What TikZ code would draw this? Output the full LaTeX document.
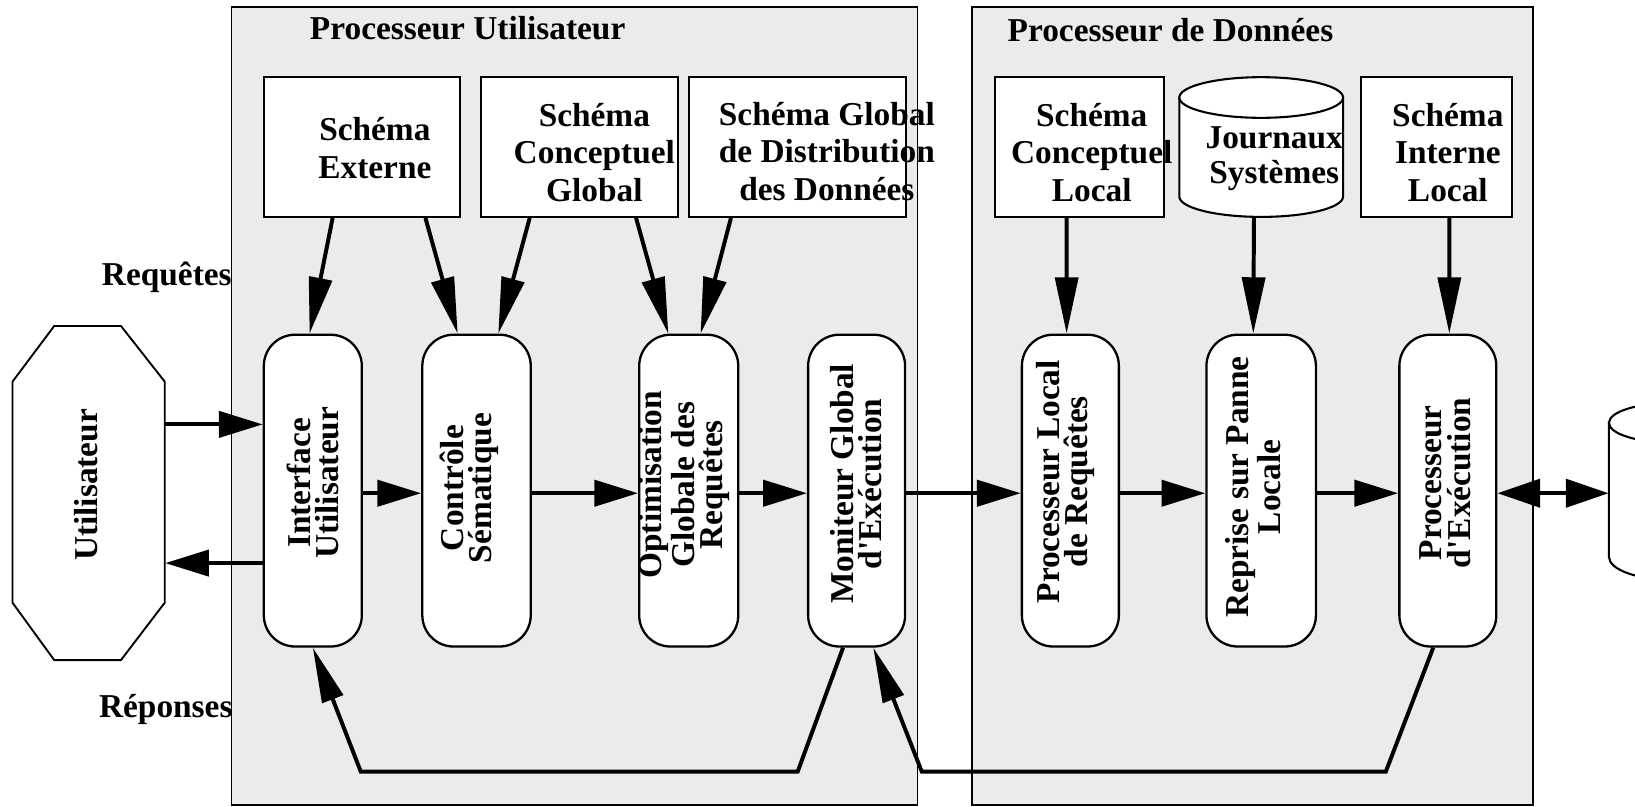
\documentclass[tikz,border=0pt]{standalone}
\usepackage{fontspec}
\setmainfont{Liberation Serif}
\usetikzlibrary{arrows.meta,fit,calc}

\begin{document}
\begin{tikzpicture}[x=0.5pt,y=-0.5pt,
  every node/.style={font=\bfseries\fontsize{16pt}{18pt}\selectfont},
  panel/.style={draw, line width=0.8pt, fill=black!8, inner sep=0pt},
  schema/.style={draw, line width=1pt, fill=white, inner sep=0pt},
  module/.style={draw, line width=1.1pt, fill=white, rounded corners=15pt, inner sep=0pt},
  hidden/.style={inner sep=0pt},
  txt/.style={align=center, inner sep=0pt},
  logtxt/.style={align=center, inner sep=0pt, font=\bfseries\fontsize{16pt}{17pt}\selectfont},
  vtxt/.style={align=center, inner sep=0pt, rotate=90,
               font=\bfseries\fontsize{16pt}{13.5pt}\selectfont},
  flow/.style={line width=1.9pt, -{Triangle[length=21pt,width=12.5pt]}},
  biflow/.style={line width=1.9pt, {Triangle[length=20.5pt,width=13.5pt]}-{Triangle[length=20.5pt,width=13.5pt]}},
  sarrow/.style={line width=1.9pt, -{Triangle[length=27pt,width=11pt]}},
  feed/.style={line width=1.9pt, -{Triangle[length=26.5pt,width=10.5pt]}},
]
\path[use as bounding box] (0,0) rectangle (1568,773);
\clip (0,0) rectangle (1568,773);

% the two processors
\node[panel, fit={(222,7) (880,772)}] (pu) {};
\node[panel, fit={(932,7) (1470,772)}] (pd) {};
\node[anchor=base] (tpu) at (448.5,37.5) {Processeur Utilisateur};
\node[anchor=base] (tpd) at (1122.5,40) {Processeur de Données};

% schemas
\node[schema, fit={(253,73.5) (441,208)}] (se) {};
\node[schema, fit={(461,73.5) (650,208)}] (scg) {};
\node[schema, fit={(661,73.5) (869,208)}] (sgd) {};
\node[schema, fit={(954,73.5) (1116,208)}] (scl) {};
\node[schema, fit={(1305,73.5) (1450,208)}] (sil) {};
\node[hidden, fit={(1131,74) (1288,208)}] (logs) {};
\draw[schema] (1131,93.5) -- (1131,188.5)
  .. controls (1131,199.3) and (1166.1,208) .. (1209.5,208)
  .. controls (1252.9,208) and (1288,199.3) .. (1288,188.5) -- (1288,93.5) -- cycle;
\draw[schema] (1209.5,93.5) ellipse [x radius=39.25pt, y radius=9.75pt];

\node[txt] (tse) at (359.5,142) {Schéma\\Externe};
\node[txt] (tscg) at (570,146) {Schéma\\Conceptuel\\Global};
\node[txt] (tsgd) at (793,145) {Schéma Global\\de Distribution\\des Données};
\node[txt] (tscl) at (1047,146) {Schéma\\Conceptuel\\Local};
\node[logtxt] (tlogs) at (1222,152) {Journaux\\Systèmes};
\node[txt] (tsil) at (1388.5,146) {Schéma\\Interne\\Local};

% user
\node[hidden, fit={(12,312.6) (158,633)}] (user) {};
\draw[line width=0.9pt, fill=white] (52,312.6) -- (116,312.6) -- (158,366) -- (158,578)
  -- (116,633) -- (52,633) -- (12,578) -- (12,366) -- cycle;
\node[vtxt] (tuser) at (83,465) {Utilisateur};

% processing modules
\node[module, fit={(253,321) (347,620)}] (iface) {};
\node[module, fit={(405,321) (509,620)}] (cs) {};
\node[module, fit={(613,321) (708,620)}] (ogr) {};
\node[module, fit={(775,321) (868,620)}] (mge) {};
\node[module, fit={(980,321) (1073,620)}] (plr) {};
\node[module, fit={(1157,321) (1262,620)}] (rpl) {};
\node[module, fit={(1342,321) (1435,620)}] (pe) {};

\node[vtxt] (tiface) at (300,463) {Interface\\Utilisateur};
\node[vtxt] (tcs) at (450,468) {Contrôle\\Sématique};
\node[vtxt] (togr) at (656,465) {Optimisation\\Globale des\\Requêtes};
\node[vtxt] (tmge) at (821,464) {Moniteur Global\\d\textquotesingle Exécution};
\node[vtxt] (tplr) at (1022,462) {Processeur Local\\de Requêtes};
\node[vtxt] (trpl) at (1202,467) {Reprise sur Panne\\Locale};
\node[vtxt] (tpe) at (1386,463) {Processeur\\d\textquotesingle Exécution};

% local database
\node[hidden, fit={(1543,386) (1663,556)}] (disk) {};
\draw[schema] (1543,405.5) -- (1543,534)
  .. controls (1543,546.2) and (1570,556) .. (1603,556)
  .. controls (1636,556) and (1663,546.2) .. (1663,534) -- (1663,405.5) -- cycle;
\draw[schema] (1603,405.5) ellipse [x radius=30pt, y radius=9.5pt];

% side labels
\node[anchor=base] (treq) at (160,274) {Requêtes};
\node[anchor=base] (trep) at (159,688) {Réponses};

% rows of the horizontal flows
\coordinate (rowin) at (0,407);
\coordinate (rowout) at (0,540);
\coordinate (rowmain) at (0,473);

\draw[flow] (user.east |- rowin) -- (iface.west |- rowin);
\draw[flow] (iface.west |- rowout) -- (user.east |- rowout);
\draw[flow] (iface.east |- rowmain) -- (cs.west |- rowmain);
\draw[flow] (cs.east |- rowmain) -- (ogr.west |- rowmain);
\draw[flow] (ogr.east |- rowmain) -- (mge.west |- rowmain);
\draw[flow] (mge.east |- rowmain) -- (plr.west |- rowmain);
\draw[flow] (plr.east |- rowmain) -- (rpl.west |- rowmain);
\draw[flow] (rpl.east |- rowmain) -- (pe.west |- rowmain);
\draw[biflow] (pe.east |- rowmain) -- (disk.west |- rowmain);

% schemas feeding the modules
\draw[sarrow] ($(se.south west)+(67,0)$) -- ($(iface.north west)+(45,0)$);
\draw[sarrow] ($(se.south west)+(156,0)$) -- ($(cs.north west)+(35,0)$);
\draw[sarrow] ($(scg.south west)+(48,0)$) -- ($(cs.north west)+(74,0)$);
\draw[sarrow] ($(scg.south west)+(150,0)$) -- ($(ogr.north west)+(29,0)$);
\draw[sarrow] ($(sgd.south west)+(41,0)$) -- ($(ogr.north west)+(60,0)$);
\draw[sarrow] ($(scl.south west)+(70,0)$) -- ($(plr.north west)+(44,0)$);
\draw[sarrow] ($(logs.south west)+(72,0)$) -- ($(rpl.north west)+(46,0)$);
\draw[sarrow] ($(sil.south west)+(86,0)$) -- ($(pe.north west)+(49,0)$);

% answers going back
\coordinate (fa) at (765,740);
\coordinate (fb) at (346,740);
\coordinate (fc) at (1329,740);
\coordinate (fd) at (884,740);
\draw[feed] ($(mge.south)+(-13,0)$) -- (fa) -- (fb) -- (iface.south);
\draw[feed] ($(pe.south)+(-14,0)$) -- (fc) -- (fd) -- ($(mge.south)+(16,0)$);
\end{tikzpicture}
\end{document}
